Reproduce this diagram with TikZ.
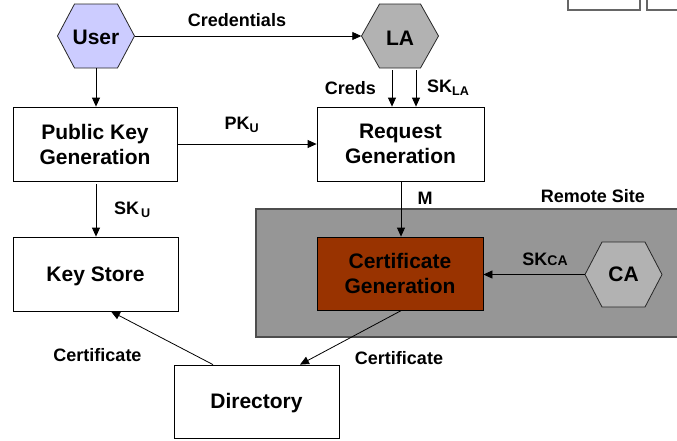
\documentclass[tikz,border=0pt]{standalone}
\usepackage{fontspec}
\setmainfont{Liberation Sans}
\usetikzlibrary{arrows.meta,calc}
\definecolor{userfill}{RGB}{204,204,255}
\definecolor{hexgray}{RGB}{178,178,178}
\definecolor{remotegray}{RGB}{150,150,150}
\definecolor{remoteline}{RGB}{77,77,77}
\definecolor{certfill}{RGB}{153,51,0}
\newcommand\hexshape[5]{% center, half width, half height, inset, fill
  \filldraw[hexline, fill=#5] ($(#1)+(-#2,0)$) -- ($(#1)+(-#2+#4,-#3)$) -- ($(#1)+(#2-#4,-#3)$) -- ($(#1)+(#2,0)$) -- ($(#1)+(#2-#4,#3)$) -- ($(#1)+(-#2+#4,#3)$) -- cycle;}
\begin{document}
\begin{tikzpicture}[x=1pt,y=-1pt,
  hexline/.style={draw=black!85, line width=0.8pt},
  box/.style={draw=black, line width=0.8pt, fill=white, minimum width=165pt, minimum height=74pt, align=center, inner sep=0pt, font=\fontsize{21}{25}\selectfont\bfseries},
  onebox/.style={box, text height=18.8pt},
  hexnode/.style={inner sep=0pt, minimum width=77pt, minimum height=64pt, font=\fontsize{21}{25}\selectfont\bfseries},
  lbl/.style={inner sep=0pt, font=\fontsize{18}{20}\selectfont\bfseries},
  arr/.style={draw=black, line width=0.8pt, -{Triangle[length=9pt,width=8pt]}},
  ]
\useasboundingbox (0,0) rectangle (677,440);
% partial boxes at top right
\draw[draw=black!60, line width=1.5pt] (568,0) |- (640,10) -- (640,0);
\draw[draw=black!60, line width=1.5pt] (647,0) |- (677,10);
% remote site region
\fill[remotegray] (256,209) rectangle (677,337);
\draw[remoteline, line width=1.5pt] (677,209) -| (256,337) -- (677,337);
\node[lbl] (remote) at (593,196) {Remote Site};
% hexagons
\coordinate (userc) at (96,36);
\coordinate (lac) at (400,36);
\coordinate (cac) at (623.5,274.5);
\hexshape{userc}{38.5}{32}{17}{userfill}
\hexshape{lac}{38.5}{32}{18}{hexgray}
\hexshape{cac}{38.5}{32.5}{17}{hexgray}
\node[hexnode, text height=18pt] (user) at (userc) {User};
\node[hexnode, text height=18pt] (la) at (lac) {LA};
\node[hexnode, minimum height=65pt] (ca) at (cac) {CA};
% boxes
\node[box, minimum width=164pt] (pkg) at (95,144) {Public Key\\Generation};
\node[box, minimum width=167pt] (req) at (400.5,144) {Request\\Generation};
\node[onebox] (ks) at (95.5,274) {Key Store};
\node[box, fill=certfill, minimum width=166pt, minimum height=73pt] (cg) at (400,273.5) {Certificate\\Generation};
\node[onebox, minimum height=73pt] (dir) at (256.5,401.5) {Directory};
% connectors
\draw[arr] (user.east) -- (la.west);
\node[lbl] (credl) at (237,20) {Credentials};
\draw[arr] (user.south) -- (user.south |- pkg.north);
\coordinate (lc1) at ($(la.south)+(-8,2)$);
\coordinate (lc2) at ($(la.south)+(16,2)$);
\draw[arr] (lc1) -- (lc1 |- req.north);
\draw[arr] (lc2) -- (lc2 |- req.north);
\node[lbl, anchor=east] (credsl) at (376,88) {Creds};
\node[lbl, anchor=west] (skla) at (427,88) {SK\textsubscript{LA}};
\draw[arr] (pkg.east) -- (pkg.east -| req.west);
\node[lbl] (pku) at (242,125) {PK\textsubscript{U}};
\coordinate (pks) at ($(pkg.south)+(1,3)$);
\draw[arr] (pks) -- (pks |- ks.north);
\node[lbl, anchor=west] (sku) at (114,210) {SK\hspace{2pt}\textsubscript{U}};
\coordinate (rqs) at ($(req.south)+(0.5,0)$);
\draw[arr] (rqs) -- (rqs |- cg.north);
\node[lbl] (ml) at (425,198) {M};
\draw[arr] (ca.west) -- (ca.west -| cg.east);
\node[lbl] (skca) at (545,259) {SK{\fontsize{14}{14}\selectfont CA}};
\coordinate (dirin) at ($(dir.north)+(43.5,0)$);
\draw[arr] ($(cg.south)+(1.5,0)$) -- (dirin);
\node[lbl] (cert1) at (399,358) {Certificate};
\coordinate (dirout) at ($(dir.north)+(-43.5,0)$);
\coordinate (ksin) at ($(ks.south)+(15.5,0)$);
\draw[arr] (dirout) -- (ksin);
\node[lbl] (cert2) at (97.5,355) {Certificate};
\end{tikzpicture}
\end{document}
